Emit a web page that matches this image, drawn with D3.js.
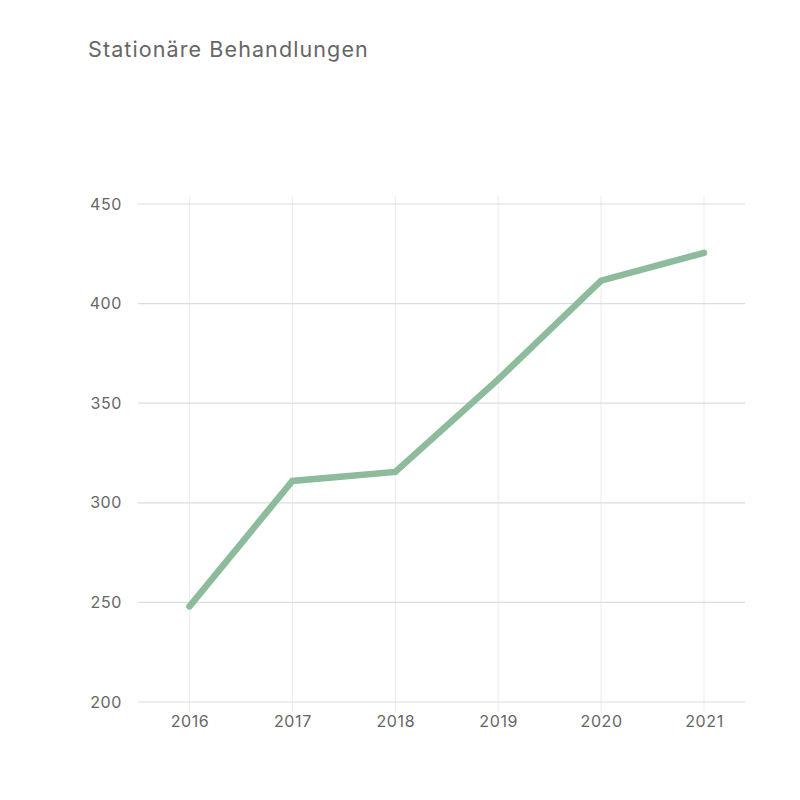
<!DOCTYPE html>
<html>
<head>
<meta charset="utf-8">
<script src="https://cdn.jsdelivr.net/npm/d3@7"></script>
<style>
    body { margin: 0; background: #fff; }
    text { font-family: Inter, "Open Sans", sans-serif; fill: #666; }
</style>
</head>
<body>
<div id="chart"></div>
<script>
var years = ['2016', '2017', '2018', '2019', '2020', '2021'];
var behandlungen = [248, 311, 315.5, 362, 411.5, 425.5];
var yTicks = [200, 250, 300, 350, 400, 450];

var width = 800,
    height = 800,
    plotLeft = 138,
    plotRight = 745,
    plotTop = 204,
    plotBottom = 702,
    linecolor = '#8fbb9d';

var svg = d3.select('#chart').append('svg')
    .attr('width', width)
    .attr('height', height);

// first and last year sit a bit inside the grid
var x = d3.scalePoint()
    .domain(years)
    .range([plotLeft + 51.5, plotRight - 41]);

var y = d3.scaleLinear()
    .domain([200, 450])
    .range([plotBottom, plotTop]);

// title
svg.append('text')
    .attr('x', 88)
    .attr('y', 57)
    .attr('font-size', 21.5)
    .attr('letter-spacing', 1.1)
    .text('Stationäre Behandlungen');

// vertical grid
svg.append('g')
    .selectAll('line')
    .data(years)
    .enter()
    .append('line')
    .attr('x1', function (d) { return x(d); })
    .attr('x2', function (d) { return x(d); })
    .attr('y1', plotTop - 8)
    .attr('y2', plotBottom + 10)
    .attr('stroke', '#eeeeee')
    .attr('stroke-width', 1.2);

// horizontal grid
svg.append('g')
    .selectAll('line')
    .data(yTicks)
    .enter()
    .append('line')
    .attr('x1', plotLeft)
    .attr('x2', plotRight)
    .attr('y1', function (d) { return y(d); })
    .attr('y2', function (d) { return y(d); })
    .attr('stroke', '#dddddd')
    .attr('stroke-width', 1.2);

// y labels
var yAxis = svg.append('g')
    .attr('transform', 'translate(' + (plotLeft - 16) + ',0)')
    .call(d3.axisLeft(y).tickValues(yTicks).tickSize(0).tickPadding(0));
yAxis.select('.domain').remove();
yAxis.selectAll('text').attr('font-size', 16).attr('letter-spacing', 0.6).attr('fill', '#666').attr('font-family', 'Inter, "Open Sans", sans-serif');

// x labels
var xAxis = svg.append('g')
    .attr('transform', 'translate(0,' + (plotBottom + 14) + ')')
    .call(d3.axisBottom(x).tickSize(0).tickPadding(0));
xAxis.select('.domain').remove();
xAxis.selectAll('text').attr('font-size', 16).attr('letter-spacing', 0.6).attr('fill', '#666').attr('font-family', 'Inter, "Open Sans", sans-serif');

// the line
var line = d3.line()
    .x(function (d, i) { return x(years[i]); })
    .y(function (d) { return y(d); });

svg.append('path')
    .datum(behandlungen)
    .attr('d', line)
    .attr('fill', 'none')
    .attr('stroke', linecolor)
    .attr('stroke-width', 6.5)
    .attr('stroke-linecap', 'round');
</script>
</body>
</html>
